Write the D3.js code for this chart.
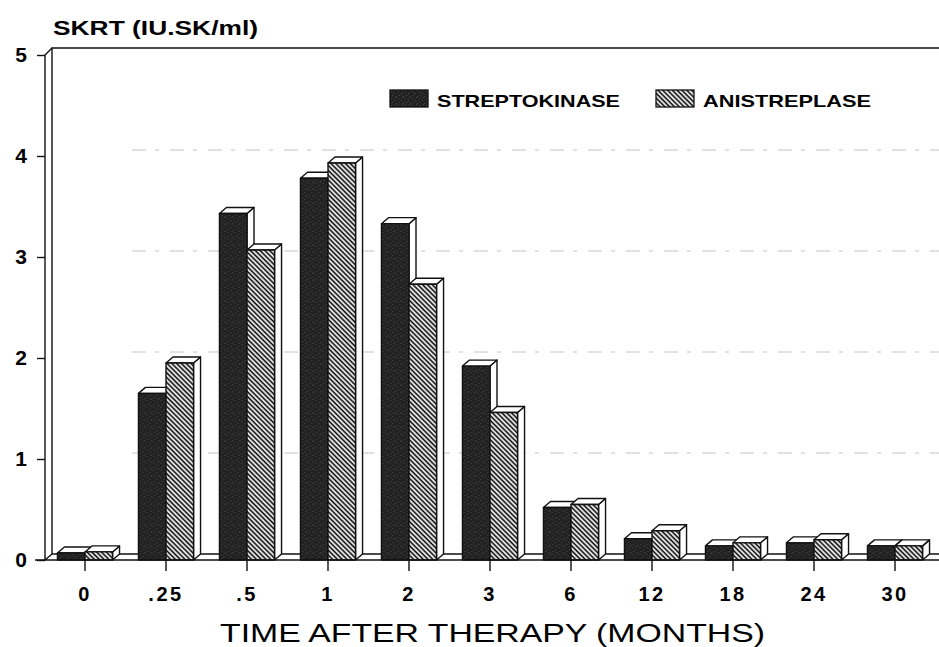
<!DOCTYPE html>
<html>
<head>
<meta charset="utf-8">
<script src="https://cdn.jsdelivr.net/npm/d3@7"></script>
<style>
  body { margin: 0; background: #fff; }
  text { font-family: "Liberation Sans", Arial, sans-serif; }
</style>
</head>
<body>
<div class="vis-barchart"></div>
<script>
// data
const categories = ['0', '.25', '.5', '1', '2', '3', '6', '12', '18', '24', '30'];
const streptokinase = [0.07, 1.65, 3.43, 3.78, 3.33, 1.92, 0.52, 0.21, 0.14, 0.17, 0.14];
const anistreplase = [0.08, 1.95, 3.07, 3.93, 2.73, 1.46, 0.55, 0.29, 0.17, 0.20, 0.14];
const seriesNames = ['STREPTOKINASE', 'ANISTREPLASE'];
const yTicks = [0, 1, 2, 3, 4, 5];

const W = 939, H = 647;
const x0 = 45, x1 = 935.5;     // front axis / right end
const y0 = 560, y5 = 55;
const dx = 7, dy = -6;         // 3d depth offset

let svg = d3.select('.vis-barchart')
    .append('svg')
    .attr('width', W)
    .attr('height', H);

// fills
let defs = svg.append('defs');
let hatch = defs.append('pattern')
    .attr('id', 'hatch')
    .attr('patternUnits', 'userSpaceOnUse')
    .attr('width', 3.4).attr('height', 3.4)
    .attr('patternTransform', 'rotate(-45)');
hatch.append('rect').attr('width', 3.4).attr('height', 3.4).attr('fill', '#fff');
hatch.append('line')
    .attr('x1', 1.2).attr('y1', 0).attr('x2', 1.2).attr('y2', 3.4)
    .attr('stroke', '#000').attr('stroke-width', 1.6);

let dark = defs.append('pattern')
    .attr('id', 'dark')
    .attr('patternUnits', 'userSpaceOnUse')
    .attr('width', 7).attr('height', 7);
dark.append('rect').attr('width', 7).attr('height', 7).attr('fill', '#222');
[[1, 1], [4, 3], [2, 5], [6, 6], [5, 0]].forEach(p => {
    dark.append('rect').attr('x', p[0]).attr('y', p[1])
        .attr('width', 1).attr('height', 1).attr('fill', '#4a4a4a');
});
const fills = ['url(#dark)', 'url(#hatch)'];

// scales
let x = d3.scaleBand()
    .domain(categories)
    .range([x0 - 0.5, x1])
    .paddingInner(0.32)
    .paddingOuter(0.16);

let xs = d3.scaleBand()
    .domain(seriesNames)
    .range([0, x.bandwidth()]);

let y = d3.scaleLinear()
    .domain([0, 5])
    .range([y0, y5]);

// back wall gridlines
svg.append('g')
    .selectAll('line')
    .data(yTicks.filter(d => d > 0 && d < 5))
    .enter().append('line')
    .attr('x1', x0 + dx + 80).attr('x2', W)
    .attr('y1', d => y(d) + dy).attr('y2', d => y(d) + dy)
    .attr('stroke', '#c4c4c4')
    .attr('stroke-width', 1)
    .attr('stroke-dasharray', '14 9 4 11');

// frame: back wall, left wall, floor
let frame = svg.append('g')
    .attr('fill', 'none')
    .attr('stroke', '#111')
    .attr('stroke-width', 1.4);
frame.append('path')
    .attr('d', 'M' + W + ',' + (y5 + dy - 1) + 'H' + (x0 + dx) + 'V' + (y0 + dy));
frame.append('path')
    .attr('d', 'M' + (x0 + dx) + ',' + (y5 + dy - 1) + 'L' + x0 + ',' + y5 + 'V' + y0);
frame.append('path')
    .attr('d', 'M' + (x0 + dx) + ',' + (y0 + dy) + 'H' + W +
        'M' + x0 + ',' + y0 + 'L' + (x0 + dx) + ',' + (y0 + dy));

// bars
let groups = svg.append('g')
    .selectAll('g')
    .data(categories.map((c, i) => ({ cat: c, vals: [streptokinase[i], anistreplase[i]] })))
    .enter().append('g')
    .attr('transform', d => 'translate(' + x(d.cat) + ',0)');

let bars = groups.selectAll('g')
    .data(d => d.vals.map((v, j) => ({ name: seriesNames[j], value: v, j: j })))
    .enter().append('g')
    .attr('stroke', '#111')
    .attr('stroke-width', 1.4)
    .attr('stroke-linejoin', 'round');

const bw = xs.bandwidth();
bars.append('path') // right side
    .attr('fill', '#fff')
    .attr('d', d => {
        let bx = xs(d.name) + bw, by = y(d.value);
        return 'M' + bx + ',' + by + 'l' + dx + ',' + dy + 'V' + (y0 + dy) + 'L' + bx + ',' + y0 + 'Z';
    });
bars.append('path') // top
    .attr('fill', '#fff')
    .attr('d', d => {
        let bx = xs(d.name), by = y(d.value);
        return 'M' + bx + ',' + by + 'l' + dx + ',' + dy + 'h' + bw + 'l' + (-dx) + ',' + (-dy) + 'Z';
    });
bars.append('rect') // front
    .attr('x', d => xs(d.name))
    .attr('y', d => y(d.value))
    .attr('width', bw)
    .attr('height', d => y0 - y(d.value))
    .attr('fill', d => fills[d.j]);

// axes
let yAxis = svg.append('g')
    .attr('transform', 'translate(' + x0 + ',0)')
    .call(d3.axisLeft(y).tickValues(yTicks).tickSize(8).tickPadding(10).tickFormat(d3.format('d')));
yAxis.select('.domain').remove();
yAxis.selectAll('line').attr('stroke', '#111').attr('stroke-width', 1.4);
yAxis.selectAll('text')
    .attr('fill', '#000')
    .style('font-size', '21px')
    .style('font-weight', 'bold');

let xAxis = svg.append('g')
    .attr('transform', 'translate(0,' + y0 + ')')
    .call(d3.axisBottom(x).tickSize(11).tickPadding(16).tickSizeOuter(0));
xAxis.select('.domain')
    .attr('d', 'M35,0H' + W)
    .attr('stroke', '#111').attr('stroke-width', 1.5);
xAxis.selectAll('line').attr('stroke', '#111').attr('stroke-width', 1.4);
xAxis.selectAll('text')
    .attr('fill', '#000')
    .style('font-size', '20px')
    .style('font-weight', 'bold')
    .style('letter-spacing', '2.5px');

// titles
svg.append('text')
    .attr('x', 53).attr('y', 35)
    .attr('textLength', 205).attr('lengthAdjust', 'spacingAndGlyphs')
    .style('font-size', '21px').style('font-weight', 'bold')
    .attr('fill', '#000')
    .text('SKRT (IU.SK/ml)');

svg.append('text')
    .attr('x', 220).attr('y', 642)
    .attr('textLength', 545).attr('lengthAdjust', 'spacingAndGlyphs')
    .style('font-size', '26px')
    .attr('fill', '#000')
    .text('TIME AFTER THERAPY (MONTHS)');

// legend
const legendX = [390, 656], legendW = [183, 168];
let legendG = svg.selectAll('.legend')
    .data(seriesNames)
    .enter().append('g')
    .attr('class', 'legend')
    .attr('transform', (d, i) => 'translate(' + legendX[i] + ',90)');
legendG.append('rect')
    .attr('width', 38).attr('height', 17)
    .attr('fill', (d, i) => fills[i])
    .attr('stroke', '#111').attr('stroke-width', 1.3);
legendG.append('text')
    .attr('x', 47).attr('y', 17)
    .attr('textLength', (d, i) => legendW[i]).attr('lengthAdjust', 'spacingAndGlyphs')
    .style('font-size', '17px').style('font-weight', 'bold')
    .attr('fill', '#000')
    .text(d => d);
</script>
</body>
</html>
